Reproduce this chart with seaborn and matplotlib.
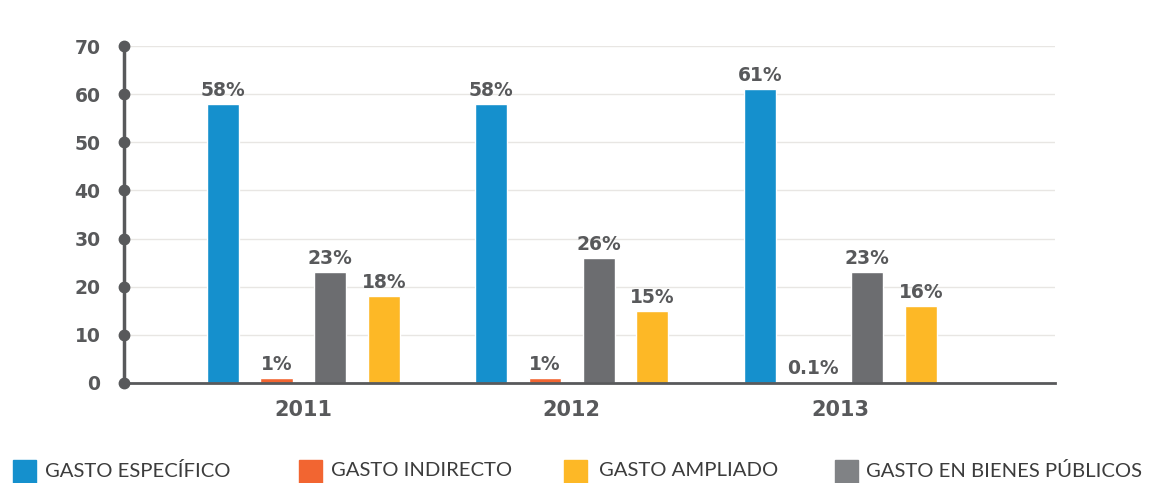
import pandas as pd
import seaborn as sns
import matplotlib.pyplot as plt
from matplotlib.patches import Rectangle

years = ['2011', '2012', '2013']
especifico = [58, 58, 61]
indirecto = [1, 1, 0.1]
bienes = [23, 26, 23]
ampliado = [18, 15, 16]

lab_especifico = ['58%', '58%', '61%']
lab_indirecto = ['1%', '1%', '0.1%']
lab_bienes = ['23%', '26%', '23%']
lab_ampliado = ['18%', '15%', '16%']

series_names = ['GASTO ESPECÍFICO', 'GASTO INDIRECTO', 'GASTO EN BIENES PÚBLICOS', 'GASTO AMPLIADO']
legend_order = ['GASTO ESPECÍFICO', 'GASTO INDIRECTO', 'GASTO AMPLIADO', 'GASTO EN BIENES PÚBLICOS']
colors = {'GASTO ESPECÍFICO': '#1590cd',
          'GASTO INDIRECTO': '#f26531',
          'GASTO EN BIENES PÚBLICOS': '#6c6d70',
          'GASTO AMPLIADO': '#fdb826'}
legend_colors = dict(colors)
legend_colors['GASTO EN BIENES PÚBLICOS'] = '#808285'

dark = '#58595b'

rows = []
for name, vals in zip(series_names, [especifico, indirecto, bienes, ampliado]):
    for y, v in zip(years, vals):
        rows.append({'year': y, 'serie': name, 'valor': v})
df = pd.DataFrame(rows)

sns.set_style('white')
plt.rcParams['font.family'] = ['DejaVu Sans']

fig = plt.figure(figsize=(11.51, 4.83), dpi=100)
ax = fig.add_axes([124 / 1151, 100 / 483, (1055 - 124) / 1151, (383 - 46) / 483])

sns.barplot(data=df, x='year', y='valor', hue='serie', hue_order=series_names,
            palette=colors, width=0.8, gap=0.4, legend=False, ax=ax, saturation=1)

# etiquetas de porcentaje
for cont, labs in zip(ax.containers, [lab_especifico, lab_indirecto, lab_bienes, lab_ampliado]):
    ax.bar_label(cont, labels=labs, padding=3, fontsize=13.5, fontweight='bold', color=dark)

ax.set_xlim(-0.668, 2.80)
ax.set_ylim(0, 70)
ax.set_yticks(range(0, 71, 10))
ax.yaxis.grid(True, color='#e8e6e3', linewidth=1)
ax.set_axisbelow(True)
ax.set_xlabel('')
ax.set_ylabel('')

for s in ['top', 'right']:
    ax.spines[s].set_visible(False)
ax.spines['left'].set_color(dark)
ax.spines['left'].set_linewidth(2.5)
ax.spines['bottom'].set_color(dark)
ax.spines['bottom'].set_linewidth(2)

# puntos en los ticks del eje y
ax.plot([0] * 8, list(range(0, 71, 10)), 'o', color=dark, markersize=7.5,
        transform=ax.get_yaxis_transform(), clip_on=False, zorder=5)

ax.tick_params(axis='y', length=0, pad=17, labelsize=13.5, labelcolor=dark)
ax.tick_params(axis='x', length=0, pad=12, labelsize=15, labelcolor=dark)
for t in ax.get_yticklabels() + ax.get_xticklabels():
    t.set_fontweight('bold')

# leyenda manual
leg_sq = [13, 299, 564, 835]
leg_tx = [45, 331, 599, 866]
for name, sx, tx in zip(legend_order, leg_sq, leg_tx):
    fig.patches.append(Rectangle((sx / 1151, 0), 23 / 1151, 23 / 483,
                                 transform=fig.transFigure, color=legend_colors[name]))
    fig.text(tx / 1151, 12 / 483, name, ha='left', va='center', fontsize=14.6,
             color='#3c3c3c', family=['Lato', 'DejaVu Sans'])

fig.savefig('out.png', dpi=100, facecolor='white')
